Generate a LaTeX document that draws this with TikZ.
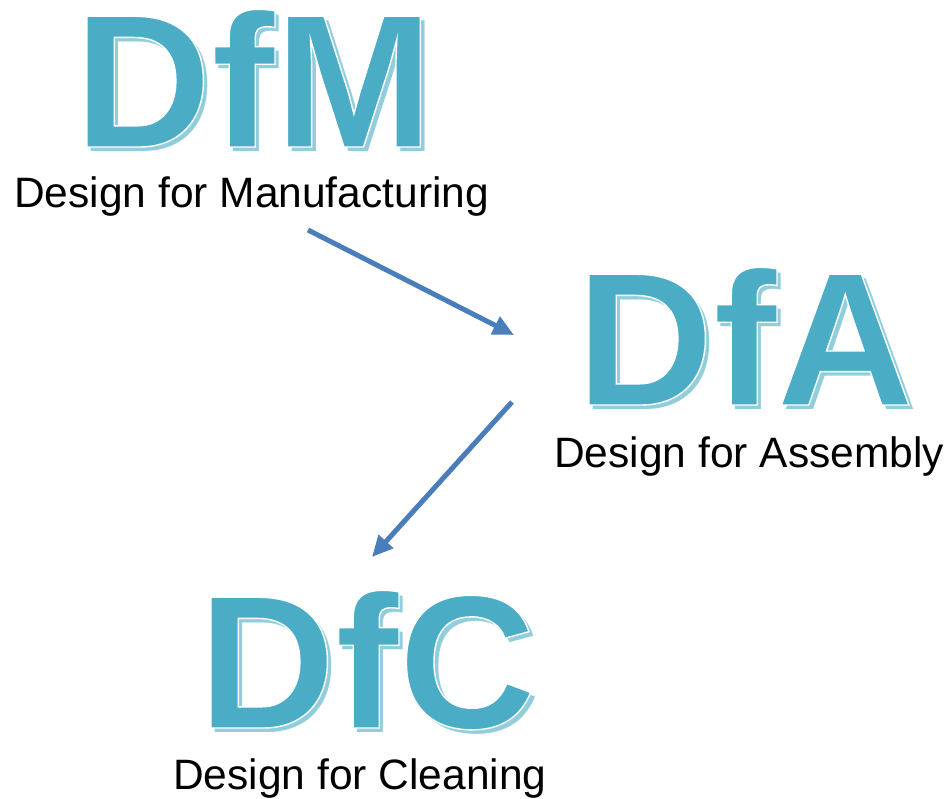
\documentclass[tikz,border=0pt]{standalone}
\usepackage{fontspec}
\setmainfont{Liberation Sans}
\usepackage{tikz}
\usetikzlibrary{arrows.meta, positioning}
\definecolor{dfteal}{RGB}{75,172,198}
\definecolor{dfshadow}{RGB}{146,205,220}
\definecolor{dfarrow}{RGB}{74,126,187}
% fill the glyphs and stroke them in white
\newcommand{\outlined}[1]{\special{pdf:literal direct 2 Tr 1 1 1 RG 1.4 w}#1\special{pdf:literal direct 0 Tr}}
\newcommand{\bigabbr}{\fontsize{190pt}{190pt}\selectfont\bfseries}

\begin{document}
\begin{tikzpicture}[
    x=1pt, y=1pt,
    abbr/.style = {anchor=base west, inner sep=0pt, font=\bigabbr, text=dfteal},
    shade/.style = {anchor=base west, inner sep=0pt, font=\bigabbr, text=dfshadow},
    caption/.style = {anchor=base west, inner sep=0pt, font=\fontsize{42.5pt}{42.5pt}\selectfont},
    pil/.style = {dfarrow, line width=5pt, -{Triangle[length=21pt, width=19pt]}}
    ]
  \useasboundingbox (0,0) rectangle (947,799);

  % drop shadows first, then the outlined letters on top
  \node[shade] at (78.5,647.5) {DfM};
  \node[shade] at (580.5,389.5) {DfA};
  \node[shade] at (202.5,66.5) {DfC};

  \node[abbr] (DfM) at (74,652) {\outlined{DfM}};
  \node[caption] (manufacturing) at (14,591) {Design for Manufacturing};

  \node[abbr] (DfA) at (576,394) {\outlined{DfA}};
  \node[caption] (assembly) at (554,331) {Design for Assembly};

  \node[abbr] (DfC) at (198,71) {\outlined{DfC}};
  \node[caption] (cleaning) at (173,9) {Design for Cleaning};

  \coordinate (m-out) at (308,569);
  \coordinate (a-in) at (514,464);
  \coordinate (a-out) at (512,397);
  \coordinate (c-in) at (372,242);

  \draw[pil] (m-out) -- (a-in);
  \draw[pil] (a-out) -- (c-in);
\end{tikzpicture}
\end{document}
